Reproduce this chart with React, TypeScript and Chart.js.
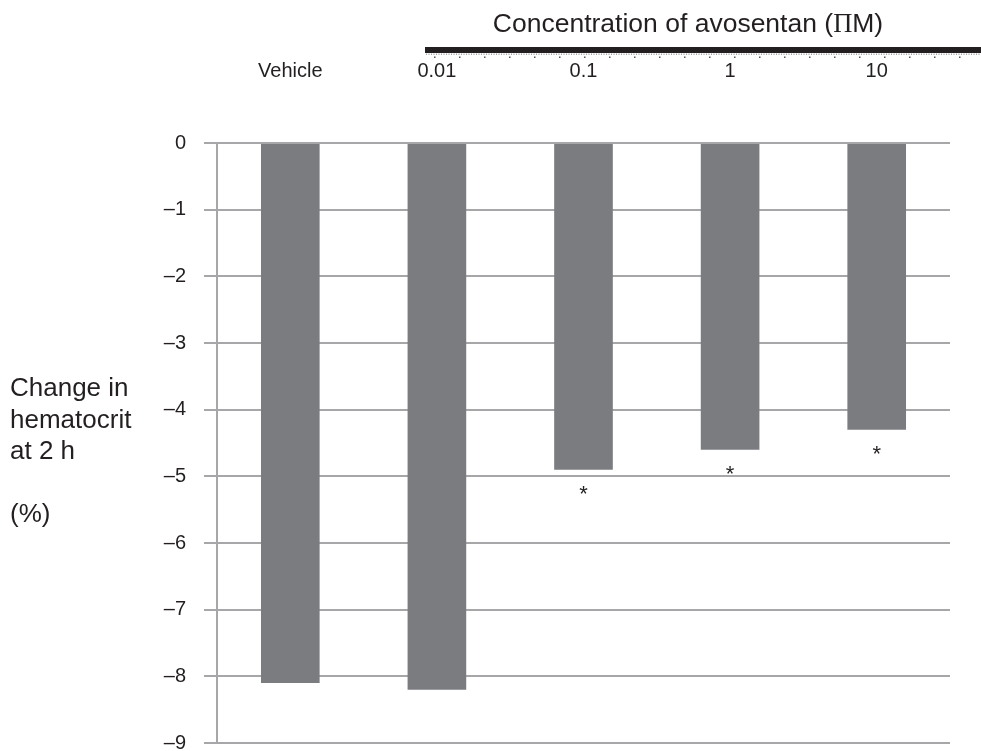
import React, { useEffect, useRef } from 'react';
import { Chart, registerables } from 'chart.js';

Chart.register(...registerables);

const categories = ['Vehicle', '0.01', '0.1', '1', '10'];
const hematocritChange = [-8.1, -8.2, -4.9, -4.6, -4.3];
const significant = [false, false, true, true, true];
const yMin = -9;
const yMax = 0;
const yTitleLines = ['Change in', 'hematocrit', 'at 2 h', '', '(%)'];
const titleStart = 'Concentration of avosentan (';
const titleGreek = 'Π';
const titleEnd = 'M)';

const TEXT = '#231f20';
const GRID = '#a7a7a9';
const BAR = '#7b7c80';
const SANS = '"Liberation Sans", Arial, sans-serif';

const decorPlugin = {
  id: 'decor',
  afterDraw(chart: any) {
    const ctx = chart.ctx as CanvasRenderingContext2D;
    const xs = chart.scales.x;
    const ys = chart.scales.y;
    ctx.save();
    ctx.fillStyle = TEXT;

    // Top title with serif Greek letter
    const sansFont = '26.5px ' + SANS;
    const serifFont = '26.5px "Liberation Serif", "Times New Roman", serif';
    ctx.font = sansFont;
    const w1 = ctx.measureText(titleStart).width;
    const w3 = ctx.measureText(titleEnd).width;
    ctx.font = serifFont;
    const w2 = ctx.measureText(titleGreek).width;
    const total = w1 + w2 + w3;
    let tx = 688 - total / 2;
    const ty = 32;
    ctx.textBaseline = 'alphabetic';
    ctx.textAlign = 'left';
    ctx.font = sansFont;
    ctx.fillText(titleStart, tx, ty);
    tx += w1;
    ctx.font = serifFont;
    ctx.fillText(titleGreek, tx, ty);
    tx += w2;
    ctx.font = sansFont;
    ctx.fillText(titleEnd, tx, ty);

    // Thick rule under the title with dotted edge
    const ruleLeft = 425;
    const ruleRight = chart.width;
    ctx.fillRect(ruleLeft, 47, ruleRight - ruleLeft, 6);
    ctx.fillStyle = '#a0a0a0';
    for (let x = ruleLeft + 1; x < ruleRight; x += 2.5) ctx.fillRect(x, 53.5, 1, 1.5);
    ctx.fillStyle = '#555';
    for (let x = ruleLeft + 9; x < ruleRight; x += 25) ctx.fillRect(x, 56.5, 1.5, 1.5);

    // Y-axis title (horizontal, multi-line)
    ctx.fillStyle = TEXT;
    ctx.font = '26px ' + SANS;
    yTitleLines.forEach((line, i) => {
      if (line) ctx.fillText(line, 10, 396 + i * 31.5);
    });

    // Significance asterisks
    ctx.font = '22px ' + SANS;
    ctx.textAlign = 'center';
    hematocritChange.forEach((v, i) => {
      if (!significant[i]) return;
      const x = xs.getPixelForValue(i);
      const y = ys.getPixelForValue(v);
      ctx.fillText('*', x, y + 31);
    });
    ctx.restore();
  },
};

export default function App() {
  const ref = useRef<HTMLCanvasElement | null>(null);

  useEffect(() => {
    if (!ref.current) return;
    const chart = new Chart(ref.current, {
      type: 'bar',
      data: {
        labels: categories,
        datasets: [
          {
            data: hematocritChange,
            backgroundColor: BAR,
            borderWidth: 0,
            barPercentage: 0.4,
            categoryPercentage: 1.0,
          },
        ],
      },
      options: {
        responsive: false,
        animation: false,
        layout: { padding: { left: 0, top: 0, right: 31, bottom: 8 } },
        plugins: {
          legend: { display: false },
          tooltip: { enabled: false },
          title: { display: false },
        },
        scales: {
          x: {
            position: 'top',
            grid: { display: false, drawTicks: false },
            border: { display: false },
            ticks: {
              color: TEXT,
              font: { family: SANS, size: 20 },
              padding: 60,
            },
            afterFit: (s: any) => {
              s.height = 143;
            },
          },
          y: {
            min: yMin,
            max: yMax,
            grid: {
              color: GRID,
              lineWidth: 2,
              drawTicks: true,
              tickLength: 13,
            },
            border: { display: true, color: GRID, width: 2 },
            ticks: {
              stepSize: 1,
              color: TEXT,
              font: { family: SANS, size: 20 },
              padding: 18,
              callback: (v: any) => (Number(v) === 0 ? '0' : '\u2013' + Math.abs(Number(v))),
            },
            afterFit: (s: any) => {
              s.width = 217;
              s.paddingTop = 0;
              s.paddingBottom = 0;
            },
          },
        },
      },
      plugins: [decorPlugin],
    });
    return () => chart.destroy();
  }, []);

  return (
    <div style={{ position: 'absolute', left: 0, top: 0, width: 981, height: 751, background: '#fff' }}>
      <canvas ref={ref} width={981} height={751} style={{ display: 'block' }} />
    </div>
  );
}
